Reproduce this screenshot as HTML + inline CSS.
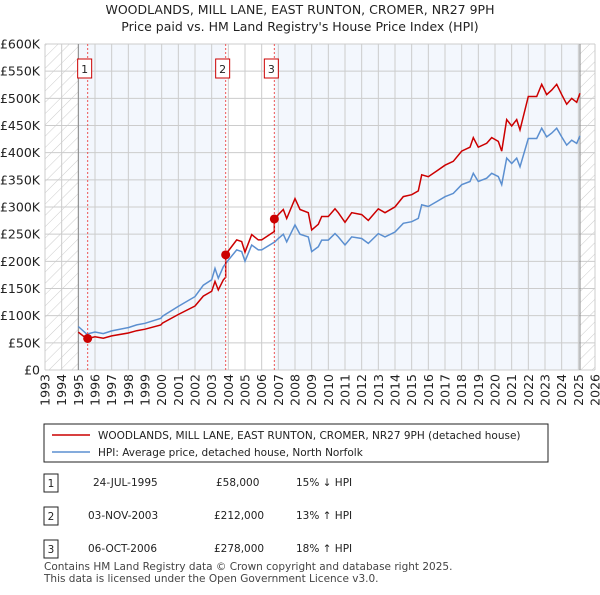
<!DOCTYPE html>
<html><head><meta charset="utf-8"><style>
body{margin:0;background:#fff;font-family:"Liberation Sans","DejaVu Sans",sans-serif;}
svg text{font-family:"DejaVu Sans","Liberation Sans",sans-serif;}
</style></head><body>
<svg id="chart" width="600" height="590" xmlns="http://www.w3.org/2000/svg">
<defs>
<pattern id="hatch" patternUnits="userSpaceOnUse" width="8" height="8" patternTransform="rotate(45)">
<rect width="8" height="8" fill="#fff"/><line x1="0" y1="0" x2="0" y2="8" stroke="#ccc" stroke-width="1"/></pattern>
</defs>
<text x="300" y="14" text-anchor="middle" font-size="12.5" fill="#222">WOODLANDS, MILL LANE, EAST RUNTON, CROMER, NR27 9PH</text>
<text x="300" y="31" text-anchor="middle" font-size="12.5" fill="#222">Price paid vs. HM Land Registry's House Price Index (HPI)</text>
<g id="plot"></g>
<g>
<rect x="44" y="424" width="504" height="38" fill="#fff" stroke="#222" stroke-width="1"/>
<line x1="52" y1="435" x2="90" y2="435" stroke="#cc0000" stroke-width="1.5"/>
<text x="98" y="439" font-size="10.5" fill="#222">WOODLANDS, MILL LANE, EAST RUNTON, CROMER, NR27 9PH (detached house)</text>
<line x1="52" y1="452" x2="90" y2="452" stroke="#5b8fd0" stroke-width="1.5"/>
<text x="98" y="456" font-size="10.5" fill="#222">HPI: Average price, detached house, North Norfolk</text>
</g>
<g font-size="10.5" fill="#222">
<rect x="44" y="474" width="14" height="18" fill="#fff" stroke="#222"/><text x="51" y="487" text-anchor="middle">1</text>
<text x="93" y="486">24-JUL-1995</text><text x="216" y="486">£58,000</text><text x="296" y="486">15% ↓ HPI</text>
<rect x="44" y="507" width="14" height="18" fill="#fff" stroke="#222"/><text x="51" y="520" text-anchor="middle">2</text>
<text x="88" y="519">03-NOV-2003</text><text x="214" y="519">£212,000</text><text x="296" y="519">13% ↑ HPI</text>
<rect x="44" y="540" width="14" height="18" fill="#fff" stroke="#222"/><text x="51" y="553" text-anchor="middle">3</text>
<text x="88" y="552">06-OCT-2006</text><text x="214" y="552">£278,000</text><text x="296" y="552">18% ↑ HPI</text>
</g>
<text x="44" y="570" font-size="10.5" fill="#444">Contains HM Land Registry data © Crown copyright and database right 2025.</text>
<text x="44" y="582" font-size="10.5" fill="#444">This data is licensed under the Open Government Licence v3.0.</text>
</svg>
<script>
const hpiYears=[1995.0,1995.5,1996.0,1996.5,1997.0,1998.0,1998.5,1999.0,1999.95,2000.05,2001.0,2002.0,2002.5,2003.0,2003.2,2003.4,2003.7,2004.0,2004.5,2004.8,2005.0,2005.4,2005.8,2006.0,2006.8,2007.0,2007.3,2007.5,2008.0,2008.3,2008.8,2009.0,2009.4,2009.6,2010.0,2010.4,2010.6,2011.0,2011.4,2012.0,2012.4,2013.0,2013.4,2014.0,2014.5,2015.0,2015.4,2015.6,2016.0,2016.5,2017.0,2017.5,2018.0,2018.5,2018.7,2019.0,2019.5,2019.8,2020.2,2020.4,2020.7,2021.0,2021.3,2021.5,2022.0,2022.5,2022.8,2023.1,2023.4,2023.7,2024.0,2024.3,2024.6,2024.9,2025.1];
const hpiValues=[80,66,70,67,72,78,83,86,95,99,117,135,156,166,187,169,190,202,221,218,200,230,221,221,236,242,250,236,267,250,245,218,227,239,239,251,245,230,245,242,233,251,245,254,270,273,279,304,301,310,319,325,341,347,362,347,353,362,356,341,390,380,390,374,426,426,445,429,436,445,429,414,423,417,431];
const saleYears=[1995.56,2003.84,2006.76];
const salePrices=[58,212,278];
const saleLabels=["1","2","3"];
const yTicks=[0,50,100,150,200,250,300,350,400,450,500,550,600];
const yTickLabels=["£0","£50K","£100K","£150K","£200K","£250K","£300K","£350K","£400K","£450K","£500K","£550K","£600K"];
const xTicks=[1993,1994,1995,1996,1997,1998,1999,2000,2001,2002,2003,2004,2005,2006,2007,2008,2009,2010,2011,2012,2013,2014,2015,2016,2017,2018,2019,2020,2021,2022,2023,2024,2025,2026];

const X0=45,X1=595,Y0=370,Y1=44;
const xs=y=>X0+(y-1993)/(2026-1993)*(X1-X0);
const ys=v=>Y0-v/600*(Y0-Y1);
const NS="http://www.w3.org/2000/svg";
const g=document.getElementById('plot');
function mk(t,a){const e=document.createElementNS(NS,t);for(const k in a)e.setAttribute(k,a[k]);g.appendChild(e);return e;}
function hpiAt(y){for(let i=0;i<hpiYears.length-1;i++){if(y<=hpiYears[i+1]){const t=(y-hpiYears[i])/(hpiYears[i+1]-hpiYears[i]);return hpiValues[i]+t*(hpiValues[i+1]-hpiValues[i]);}}return hpiValues[hpiValues.length-1];}
const endY=hpiYears[hpiYears.length-1];
let e;
e=mk('rect',{x:X0,y:Y1,width:X1-X0,height:Y0-Y1,fill:'url(#hatch)'});

e=mk('rect',{x:xs(1995),y:Y1,width:xs(endY)-xs(1995),height:Y0-Y1,fill:'#f3f7fd'});

e=mk('rect',{x:xs(saleYears[1]),y:Y1,width:xs(saleYears[2])-xs(saleYears[1]),height:Y0-Y1,fill:'#fff'});

yTicks.forEach((v,i)=>{
 e=mk('line',{x1:X0,x2:X1,y1:ys(v),y2:ys(v),stroke:'#cccccc','stroke-width':1});
 
 e=mk('text',{x:40,y:ys(v)+4.5,'text-anchor':'end','font-size':12.5,fill:'#222'});e.textContent=yTickLabels[i];
 
});
xTicks.forEach(y=>{
 e=mk('line',{x1:xs(y),x2:xs(y),y1:Y1,y2:Y0,stroke:'#cccccc','stroke-width':1});
 
 e=mk('text',{x:0,y:0,'text-anchor':'end','font-size':12.5,fill:'#222',transform:`translate(${xs(y)+4.5},374) rotate(-90)`});e.textContent=y;
 
});
e=mk('line',{x1:xs(1995),x2:xs(1995),y1:Y1,y2:Y0,stroke:'#888','stroke-width':1});

e=mk('line',{x1:xs(endY),x2:xs(endY),y1:Y1,y2:Y0,stroke:'#888','stroke-width':1});

// HPI line
let d=hpiYears.map((y,i)=>(i?'L':'M')+xs(y).toFixed(1)+','+ys(hpiValues[i]).toFixed(1)).join('');
e=mk('path',{d:d,fill:'none',stroke:'#5b8fd0','stroke-width':1.5});

// Property line: HPI indexed from each sale
function ratioAt(y){let k=0;for(let i=0;i<saleYears.length;i++)if(y>=saleYears[i])k=i;return salePrices[k]/hpiAt(saleYears[k]);}
let pts=[];
hpiYears.forEach((y,i)=>{
 saleYears.forEach((s,j)=>{const prev=i?hpiYears[i-1]:-1e9;if(s>prev&&s<=y){if(j>0)pts.push([s,hpiAt(s)*salePrices[j-1]/hpiAt(saleYears[j-1])]);pts.push([s,salePrices[j]]);}});
 pts.push([y,hpiValues[i]*ratioAt(y)]);
});
d=pts.map((p,i)=>(i?'L':'M')+xs(p[0]).toFixed(1)+','+ys(p[1]).toFixed(1)).join('');
e=mk('path',{d:d,fill:'none',stroke:'#cc0000','stroke-width':1.5});

saleYears.forEach((s,i)=>{
 e=mk('line',{x1:xs(s),x2:xs(s),y1:Y1,y2:Y0,stroke:'#e55','stroke-width':1,'stroke-dasharray':'2,2'});
 
 e=mk('circle',{cx:xs(s),cy:ys(salePrices[i]),r:4.5,fill:'#cc0000'});
 
 e=mk('rect',{x:xs(s)-10,y:59,width:14,height:19,fill:'#fff',stroke:'#cc0000','stroke-width':1});
 
 e=mk('text',{x:xs(s)-3,y:73,'text-anchor':'middle','font-size':11,fill:'#222'});e.textContent=saleLabels[i];
 
});
</script>
</body></html>
